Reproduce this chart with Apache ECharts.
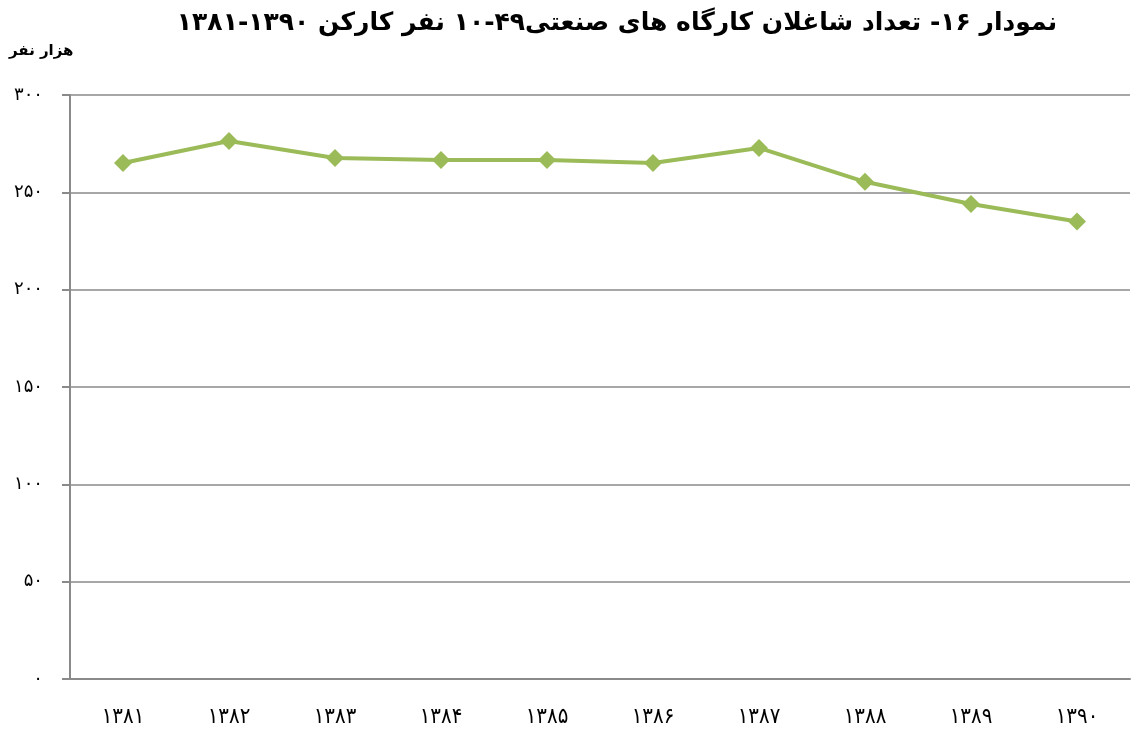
<!DOCTYPE html>
<html>
<head>
<meta charset="utf-8">
<script src="https://cdn.jsdelivr.net/npm/echarts@6/dist/echarts.min.js"></script>
<style>html,body{margin:0;padding:0;background:#fff}#c{width:1135px;height:732px}</style>
</head>
<body>
<div id="c"></div>
<script>
const titleText = 'نمودار ۱۶- تعداد شاغلان کارگاه های صنعتی۴۹-۱۰ نفر کارکن ۱۳۹۰-۱۳۸۱';
const unitText = 'هزار نفر';
const categories = ['۱۳۸۱','۱۳۸۲','۱۳۸۳','۱۳۸۴','۱۳۸۵','۱۳۸۶','۱۳۸۷','۱۳۸۸','۱۳۸۹','۱۳۹۰'];
const employees = [265.1, 276.4, 267.6, 266.6, 266.6, 265.1, 272.8, 255.4, 244.0, 235.0];
const yTickValues = [0, 50, 100, 150, 200, 250, 300];
const yTickLabels = ['۰','۵۰','۱۰۰','۱۵۰','۲۰۰','۲۵۰','۳۰۰'];

const chart = echarts.init(document.getElementById('c'));
chart.setOption({
  animation: false,
  backgroundColor: '#ffffff',
  title: {
    text: titleText,
    left: 612, top: 6, textAlign: 'center',
    textStyle: {fontFamily: 'DejaVu Sans', fontWeight: 'bold', fontSize: 25, color: '#000'}
  },
  graphic: [{
    type: 'text', left: 9, top: 44,
    style: {text: unitText, font: 'bold 15px "DejaVu Sans"', fill: '#000'}
  }],
  grid: {left: 70, right: 5, top: 95, bottom: 53},
  xAxis: {
    type: 'category', data: categories, boundaryGap: true,
    axisLine: {lineStyle: {color: '#8a8a8a', width: 2}},
    axisTick: {show: false},
    axisLabel: {margin: 27, color: '#000', fontSize: 22, fontFamily: 'DejaVu Sans Condensed'}
  },
  yAxis: {
    type: 'value', min: 0, max: 300, interval: 50,
    axisLine: {show: true, lineStyle: {color: '#8a8a8a', width: 2}},
    axisTick: {show: true, length: 8, lineStyle: {color: '#8a8a8a', width: 2}},
    splitLine: {lineStyle: {color: '#8a8a8a', width: 1.5}},
    axisLabel: {
      margin: 27, color: '#000', fontSize: 18, fontFamily: 'DejaVu Sans',
      formatter: v => yTickLabels[yTickValues.indexOf(v)]
    }
  },
  series: [{
    type: 'line', data: employees,
    symbol: 'diamond', symbolSize: 18,
    lineStyle: {color: '#9BBB59', width: 4},
    itemStyle: {color: '#9BBB59'}
  }]
});
</script>
</body>
</html>
